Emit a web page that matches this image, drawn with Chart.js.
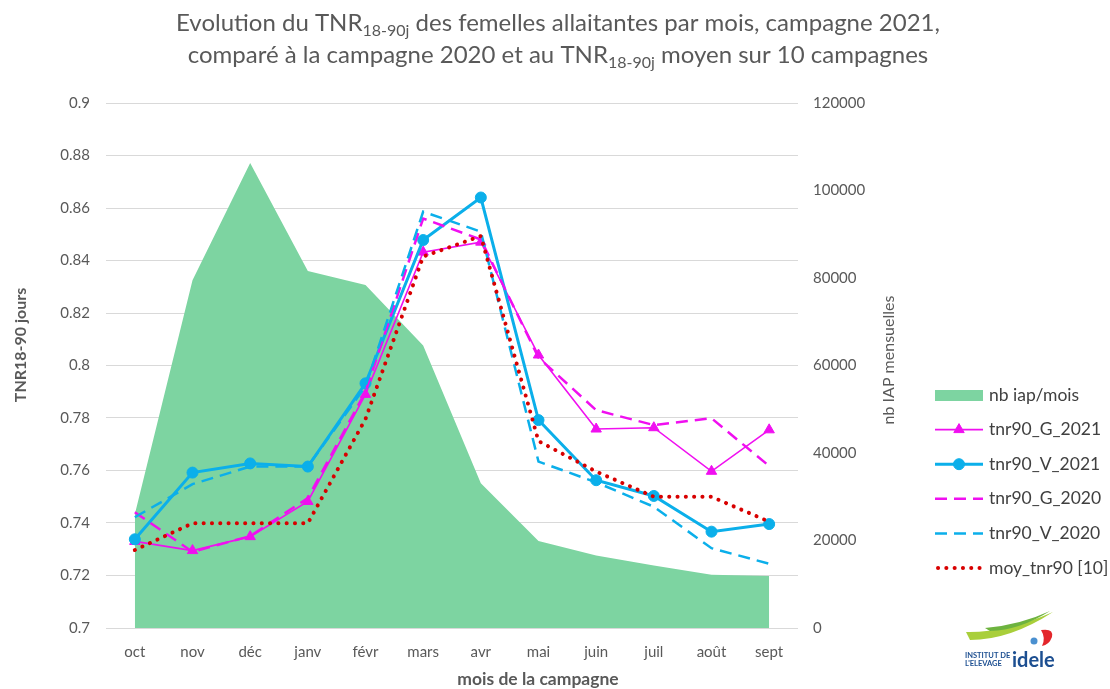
<!DOCTYPE html>
<html>
<head>
<meta charset="utf-8">
<script src="https://cdn.jsdelivr.net/npm/chart.js@4.4.1/dist/chart.umd.min.js"></script>
<style>
  html, body { margin: 0; padding: 0; background: #fff; }
</style>
</head>
<body>
<canvas id="tnrChart" width="1110" height="689"></canvas>
<script>
// mois de la campagne
var months = ['oct', 'nov', 'déc', 'janv', 'févr', 'mars', 'avr', 'mai', 'juin', 'juil', 'août', 'sept'];

// nb IAP mensuelles (axe de droite)
var nbIap = [26000, 79500, 106300, 81600, 78400, 64600, 33100, 19900, 16600, 14300, 12200, 11900];

// TNR 18-90j (axe de gauche)
var tnrG2021 = [0.7330, 0.7295, 0.7348, 0.7482, 0.7890, 0.8432, 0.8470, 0.8040, 0.7758, 0.7763, 0.7597, 0.7755];
var tnrV2021 = [0.7338, 0.7592, 0.7627, 0.7615, 0.7932, 0.8478, 0.8640, 0.7792, 0.7563, 0.7503, 0.7367, 0.7396];
var tnrG2020 = [0.7441, 0.7290, 0.7350, 0.7495, 0.7900, 0.8560, 0.8480, 0.8030, 0.7830, 0.7773, 0.7799, 0.7617];
var tnrV2020 = [0.7422, 0.7548, 0.7615, 0.7615, 0.7920, 0.8586, 0.8510, 0.7634, 0.7555, 0.7462, 0.7304, 0.7245];
var moyTnr90 = [0.7297, 0.7399, 0.7399, 0.7399, 0.7796, 0.8415, 0.8493, 0.7712, 0.7596, 0.7500, 0.7500, 0.7405];

var leftTicks = [0.7, 0.72, 0.74, 0.76, 0.78, 0.8, 0.82, 0.84, 0.86, 0.88, 0.9];
var rightTicks = [0, 20000, 40000, 60000, 80000, 100000, 120000];

var FONT = 'Lato, "Open Sans", sans-serif';
var GREY = '#595959';
var MAGENTA = '#F00FF0';
var BLUE = '#0BAFEA';
var RED = '#D80000';

// titre, titres d'axes, legende et logo dessines a la main
var extras = {
    id: 'extras',
    afterDraw: function (chart) {
        var ctx = chart.ctx;
        ctx.save();

        // titre avec indices
        function titleLine(parts, cy) {
            var w = 0;
            parts.forEach(function (p) {
                ctx.font = (p.sub ? '16px ' : '24px ') + FONT;
                p.w = ctx.measureText(p.t).width;
                w += p.w;
            });
            var x = 558 - w / 2;
            ctx.fillStyle = GREY;
            ctx.textBaseline = 'middle';
            ctx.textAlign = 'left';
            parts.forEach(function (p) {
                ctx.font = (p.sub ? '16px ' : '24px ') + FONT;
                ctx.fillText(p.t, x, p.sub ? cy + 8 : cy);
                x += p.w;
            });
        }
        titleLine([{t: 'Evolution du TNR'}, {t: '18-90j', sub: true}, {t: ' des femelles allaitantes par mois, campagne 2021,'}], 23);
        titleLine([{t: 'comparé à la campagne 2020 et au TNR'}, {t: '18-90j', sub: true}, {t: ' moyen sur 10 campagnes'}], 55);

        // titres des axes
        ctx.fillStyle = GREY;
        ctx.textAlign = 'center';
        ctx.textBaseline = 'middle';
        ctx.font = 'bold 17.5px ' + FONT;
        ctx.fillText('mois de la campagne', 538, 679);
        ctx.save();
        ctx.translate(21, 345);
        ctx.rotate(-Math.PI / 2);
        ctx.font = 'bold 16px ' + FONT;
        ctx.fillText('TNR18-90 jours', 0, 0);
        ctx.restore();
        ctx.save();
        ctx.translate(889, 360);
        ctx.rotate(-Math.PI / 2);
        ctx.font = '16px ' + FONT;
        ctx.fillText('nb IAP mensuelles', 0, 0);
        ctx.restore();

        // legende
        var order = [0, 1, 2, 3, 4, 5];
        var x0 = 935, x1 = 983;
        order.forEach(function (di, i) {
            var ds = chart.data.datasets[di];
            var y = 395 + i * 34.6;
            if (ds.type === 'line' && ds.fill) {
                ctx.fillStyle = ds.backgroundColor;
                ctx.fillRect(x0, y - 5, x1 - x0, 11);
            } else {
                ctx.save();
                ctx.strokeStyle = ds.borderColor;
                ctx.lineWidth = ds.borderWidth;
                ctx.lineCap = ds.borderCapStyle || 'butt';
                ctx.setLineDash(ds.borderDash || []);
                ctx.beginPath();
                ctx.moveTo(x0 + (ds.borderCapStyle === 'round' ? 3 : 0), y);
                ctx.lineTo(x1, y);
                ctx.stroke();
                ctx.restore();
                if (ds.pointRadius > 0) {
                    ctx.fillStyle = ds.borderColor;
                    ctx.strokeStyle = ds.borderColor;
                    Chart.helpers.drawPoint(ctx, {pointStyle: ds.pointStyle, radius: ds.pointRadius, borderWidth: 1, rotation: 0}, (x0 + x1) / 2, y);
                }
            }
            ctx.fillStyle = '#404040';
            ctx.font = '17.5px ' + FONT;
            ctx.textAlign = 'left';
            ctx.textBaseline = 'middle';
            ctx.fillText(ds.label, 989, y);
        });

        // logo idele
        ctx.fillStyle = '#A9CF3B';
        ctx.beginPath();
        ctx.moveTo(966, 632);
        ctx.quadraticCurveTo(1005, 633, 1053, 612);
        ctx.quadraticCurveTo(1010, 640, 970, 640);
        ctx.closePath();
        ctx.fill();
        ctx.fillStyle = '#6DB33F';
        ctx.beginPath();
        ctx.moveTo(985, 628);
        ctx.quadraticCurveTo(1020, 625, 1050, 611);
        ctx.quadraticCurveTo(1020, 630, 990, 631);
        ctx.closePath();
        ctx.fill();
        ctx.fillStyle = '#4A90D0';
        ctx.beginPath();
        ctx.arc(1034, 641, 3.5, 0, Math.PI * 2);
        ctx.fill();
        ctx.fillStyle = '#E3262B';
        ctx.beginPath();
        ctx.moveTo(1041, 630);
        ctx.quadraticCurveTo(1054, 628, 1052, 637);
        ctx.quadraticCurveTo(1049, 645, 1042, 646);
        ctx.quadraticCurveTo(1046, 638, 1041, 630);
        ctx.fill();
        ctx.fillStyle = '#1D4F91';
        ctx.textAlign = 'left';
        ctx.textBaseline = 'alphabetic';
        ctx.font = 'bold 7.5px ' + FONT;
        ctx.fillText('INSTITUT DE', 965, 658);
        ctx.fillText("L'ELEVAGE", 965, 666);
        ctx.font = 'bold 20px ' + FONT;
        ctx.fillText('idele', 1012, 667);

        ctx.restore();
    }
};

var ctx = document.getElementById('tnrChart').getContext('2d');
var tnrChart = new Chart(ctx, {
    type: 'line',
    data: {
        labels: months,
        datasets: [{
            type: 'line',
            label: 'nb iap/mois',
            data: nbIap,
            yAxisID: 'y1',
            fill: 'origin',
            backgroundColor: '#7DD4A1',
            borderWidth: 0,
            borderColor: 'rgba(0,0,0,0)',
            pointRadius: 0,
            tension: 0,
            order: 10
        }, {
            type: 'line',
            label: 'tnr90_G_2021',
            data: tnrG2021,
            yAxisID: 'y',
            borderColor: MAGENTA,
            backgroundColor: MAGENTA,
            borderWidth: 1.6,
            pointStyle: 'triangle',
            pointRadius: 6,
            pointBorderWidth: 1,
            fill: false,
            tension: 0,
            order: 5
        }, {
            type: 'line',
            label: 'tnr90_V_2021',
            data: tnrV2021,
            yAxisID: 'y',
            borderColor: BLUE,
            backgroundColor: BLUE,
            borderWidth: 3,
            pointStyle: 'circle',
            pointRadius: 5.5,
            pointBorderWidth: 1,
            fill: false,
            tension: 0,
            order: 4
        }, {
            type: 'line',
            label: 'tnr90_G_2020',
            data: tnrG2020,
            yAxisID: 'y',
            borderColor: MAGENTA,
            backgroundColor: MAGENTA,
            borderWidth: 2.5,
            borderDash: [12, 7],
            pointRadius: 0,
            fill: false,
            tension: 0,
            order: 3
        }, {
            type: 'line',
            label: 'tnr90_V_2020',
            data: tnrV2020,
            yAxisID: 'y',
            borderColor: BLUE,
            backgroundColor: BLUE,
            borderWidth: 2.5,
            borderDash: [12, 7],
            pointRadius: 0,
            fill: false,
            tension: 0,
            order: 2
        }, {
            type: 'line',
            label: 'moy_tnr90 [10]',
            data: moyTnr90,
            yAxisID: 'y',
            borderColor: RED,
            backgroundColor: RED,
            borderWidth: 4,
            borderDash: [0.1, 8.2],
            borderCapStyle: 'round',
            pointRadius: 0,
            fill: false,
            tension: 0,
            order: 1
        }]
    },
    options: {
        responsive: false,
        animation: false,
        events: [],
        layout: {
            padding: { top: 103, right: 202, bottom: 0, left: 0 }
        },
        plugins: {
            legend: { display: false },
            title: { display: false },
            tooltip: { enabled: false }
        },
        scales: {
            x: {
                offset: true,
                grid: { display: false },
                border: { display: false },
                ticks: {
                    color: GREY,
                    font: { family: FONT, size: 15 },
                    padding: 7,
                    maxRotation: 0,
                    autoSkip: false
                },
                afterFit: function (scale) { scale.height = 61; }
            },
            y: {
                position: 'left',
                min: 0.7,
                max: 0.9,
                afterBuildTicks: function (scale) {
                    scale.ticks = leftTicks.map(function (v) { return { value: v }; });
                },
                ticks: {
                    color: GREY,
                    font: { family: FONT, size: 15 },
                    padding: 16,
                    callback: function (v) { return String(parseFloat(Number(v).toFixed(2))); }
                },
                grid: { color: '#D9D9D9', lineWidth: 1, drawTicks: false },
                border: { display: false },
                afterFit: function (scale) { scale.width = 106; }
            },
            y1: {
                position: 'right',
                min: 0,
                max: 120000,
                afterBuildTicks: function (scale) {
                    scale.ticks = rightTicks.map(function (v) { return { value: v }; });
                },
                ticks: {
                    color: GREY,
                    font: { family: FONT, size: 15 },
                    padding: 15,
                    callback: function (v) { return String(v); }
                },
                grid: { display: false, drawTicks: false },
                border: { display: false },
                afterFit: function (scale) { scale.width = 110; }
            }
        }
    },
    plugins: [extras]
});
</script>
</body>
</html>
